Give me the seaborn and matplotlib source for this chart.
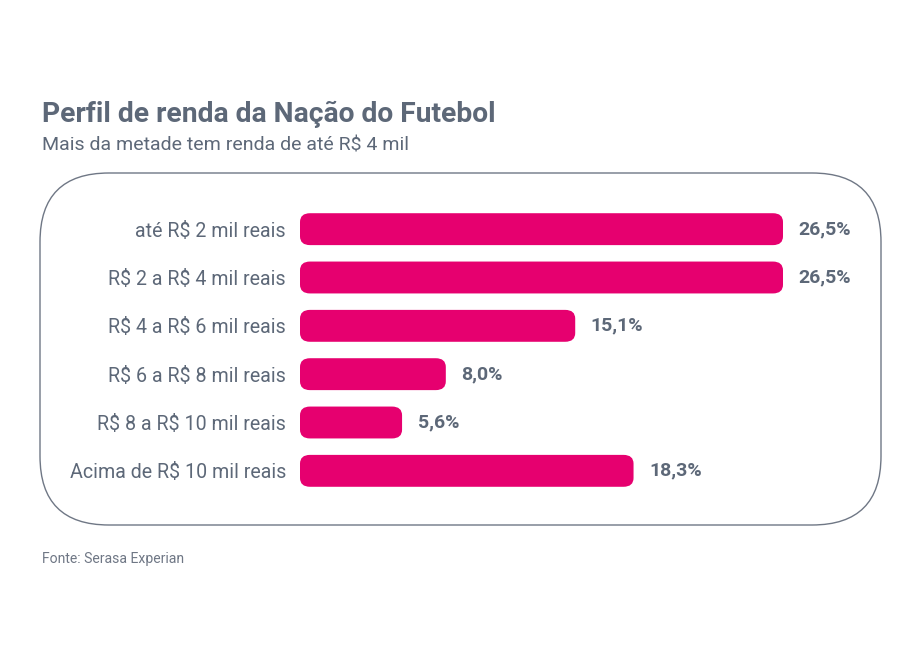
import matplotlib
matplotlib.use("Agg")
import matplotlib.pyplot as plt
import seaborn as sns
import pandas as pd
from matplotlib.patches import FancyBboxPatch

categorias = ["até R$ 2 mil reais", "R$ 2 a R$ 4 mil reais", "R$ 4 a R$ 6 mil reais",
              "R$ 6 a R$ 8 mil reais", "R$ 8 a R$ 10 mil reais", "Acima de R$ 10 mil reais"]
valores = [26.5, 26.5, 15.1, 8.0, 5.6, 18.3]
rotulos = ["26,5%", "26,5%", "15,1%", "8,0%", "5,6%", "18,3%"]

sns.set_theme(style="white")
plt.rcParams['font.family'] = ['Roboto', 'DejaVu Sans']
plt.rcParams['text.parse_math'] = False   # os "$" sao texto normal

texto = "#5d6878"
rosa = "#e6006f"

df = pd.DataFrame({"cat": categorias, "val": valores})

fig = plt.figure(figsize=(9.18, 6.49), dpi=100)
W, H = 918, 649

# caixa arredondada de fundo
caixa = FancyBboxPatch((40 / W, (H - 525) / H), 841 / W, 352 / H,
                       boxstyle="round,pad=0,rounding_size=0.075",
                       transform=fig.transFigure, facecolor="none",
                       edgecolor="#6f7785", linewidth=1.0, mutation_aspect=W / H,
                       zorder=-1)
fig.patches.append(caixa)

ax = fig.add_axes([300 / W, (H - 495) / H, 580 / W, 290 / H])
ax.patch.set_alpha(0)
sns.barplot(data=df, y="cat", x="val", color=rosa, width=0.66, ax=ax,
            saturation=1, orient="h")

# substitui as barras por versoes arredondadas
for p in list(ax.patches):
    x0, y0, w, h = p.get_x(), p.get_y(), p.get_width(), p.get_height()
    p.remove()
    ax.add_patch(FancyBboxPatch((x0, y0), w, h,
                                boxstyle="round,pad=0,rounding_size=0.55",
                                mutation_aspect=0.33,
                                facecolor=rosa, edgecolor="none"))

ax.set_xlim(0, 26.5 * 580 / 483)
ax.set_ylim(5.5, -0.5)
for i, (v, r) in enumerate(zip(valores, rotulos)):
    ax.text(v + 0.85, i, r, va="center", ha="left", fontsize=14,
            fontweight="bold", color=texto)

ax.set_xlabel("")
ax.set_ylabel("")
ax.set_xticks([])
ax.tick_params(axis="y", length=0, pad=10, labelsize=14.1, labelcolor=texto)
sns.despine(ax=ax, left=True, bottom=True)

fig.text(42 / W, 1 - 122 / H, "Perfil de renda da Nação do Futebol",
         fontsize=20.3, fontweight="bold", color=texto, va="baseline")
fig.text(42 / W, 1 - 150 / H, "Mais da metade tem renda de até R$ 4 mil",
         fontsize=14, color=texto, va="baseline")
fig.text(42 / W, 1 - 563 / H, "Fonte: Serasa Experian",
         fontsize=10.1, color="#6f7785", va="baseline")

fig.savefig("out.png", dpi=100, facecolor="white")
